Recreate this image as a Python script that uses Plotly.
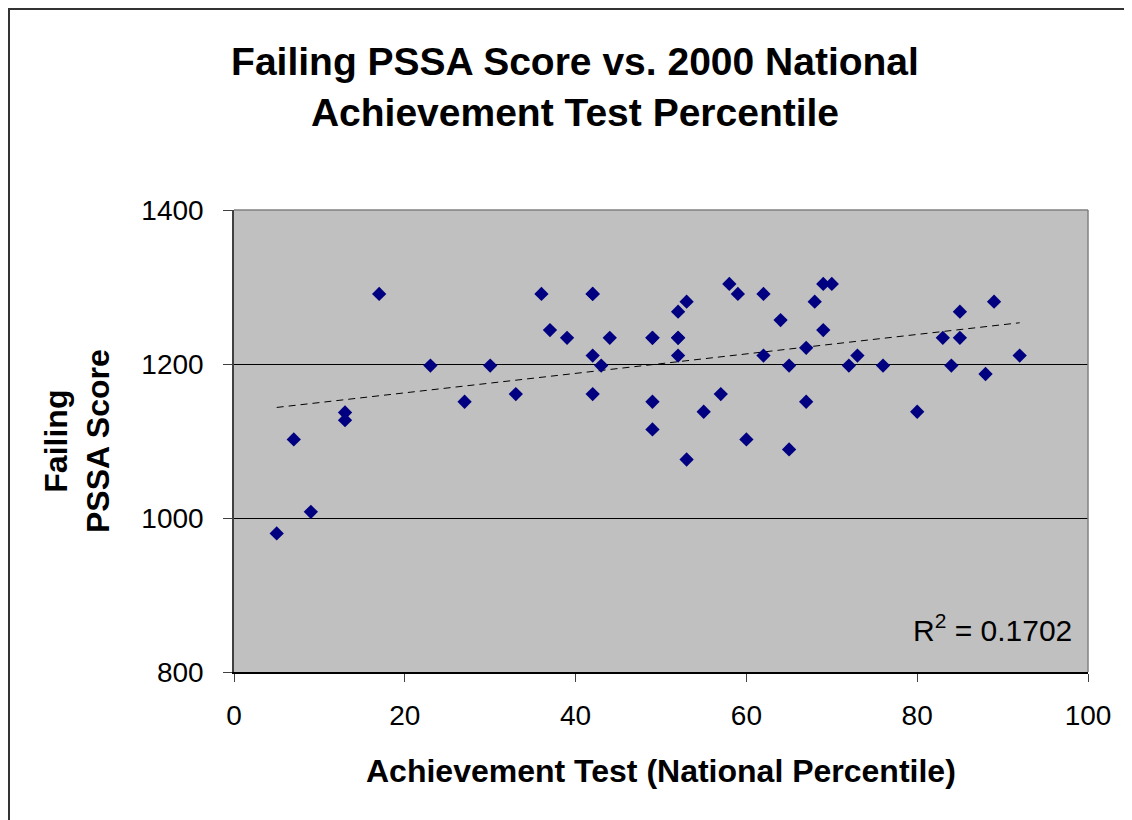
import numpy as np
import plotly.graph_objects as go

percentile = [5, 7, 9, 13, 13, 17, 23, 27, 30, 33, 36, 37, 39, 42, 42, 42, 42, 43, 44,
              49, 49, 49, 49, 52, 52, 52, 52, 53, 53, 55, 57, 58, 59, 60, 62, 62, 64,
              65, 65, 67, 67, 68, 69, 69, 70, 72, 73, 76, 80, 83, 84, 85, 85, 88, 89, 92]
pssa = [980, 1102, 1008, 1137, 1127, 1291, 1198, 1151, 1198, 1161, 1291, 1244, 1234,
        1291, 1211, 1161, 1291, 1198, 1234, 1234, 1151, 1115, 1234, 1268, 1234, 1211,
        1234, 1281, 1076, 1138, 1161, 1304, 1291, 1102, 1291, 1211, 1257, 1198, 1089,
        1221, 1151, 1281, 1304, 1244, 1304, 1198, 1211, 1198, 1138, 1234, 1198, 1268,
        1234, 1187, 1281, 1211]
x_ticks = [0, 20, 40, 60, 80, 100]
y_ticks = [800, 1000, 1200, 1400]
r2_text = "R<sup>2</sup> = 0.1702"

x = np.array(percentile, dtype=float)
y = np.array(pssa, dtype=float)
slope, intercept = np.polyfit(x, y, 1)
tx = np.array([x.min(), x.max()])
ty = slope * tx + intercept

FONT = "Liberation Sans, Arial, sans-serif"

fig = go.Figure()
fig.add_trace(go.Scatter(x=tx, y=ty, mode="lines",
                         line=dict(color="black", width=1, dash="7px,5px"),
                         hoverinfo="skip", showlegend=False))
fig.add_trace(go.Scatter(x=x, y=y, mode="markers",
                         marker=dict(symbol="diamond", size=11, color="#000080",
                                     line=dict(width=0)),
                         showlegend=False))

# page has an 8px body margin; figure is sized to fill the rest of the window
W, H = 1124, 812
L, R, T, B = 226, 44, 202, 148
pw, ph = W - L - R, H - T - B
OFF = 8  # page offset

def pxx(p):  # page px -> paper x
    return (p - OFF - L) / pw

def pxy(p):  # page px -> paper y
    return (H - B - (p - OFF)) / ph

fig.update_layout(
    width=W, height=H,
    margin=dict(l=L, r=R, t=T, b=B),
    paper_bgcolor="white",
    plot_bgcolor="#C0C0C0",
    font=dict(family=FONT, color="black"),
    title=dict(text="<b>Failing PSSA Score vs. 2000 National<br>Achievement Test Percentile</b>",
               x=(575 - OFF) / W, xanchor="center",
               y=1 - (75 - OFF) / H, yanchor="middle",
               font=dict(size=39, family=FONT)),
    xaxis=dict(range=[0, 100], tickvals=x_ticks,
               showgrid=False, zeroline=False,
               showline=True, linecolor="black", linewidth=1.5, mirror=False,
               ticks="outside", ticklen=8, tickcolor="#404040", tickwidth=1,
               ticklabelstandoff=10,
               tickfont=dict(size=28, family=FONT)),
    yaxis=dict(range=[800, 1400], tickvals=y_ticks,
               showgrid=True, gridcolor="black", gridwidth=1, zeroline=False,
               showline=True, linecolor="#404040", linewidth=1.5,
               ticks="outside", ticklen=9, tickcolor="#404040", tickwidth=1,
               ticklabelstandoff=14,
               tickfont=dict(size=28, family=FONT)),
)

# plot area top/right border (gray)
fig.add_shape(type="line", xref="paper", yref="paper", x0=0, x1=1, y0=1, y1=1,
              line=dict(color="#808080", width=1.5))
fig.add_shape(type="line", xref="paper", yref="paper", x0=1, x1=1, y0=0, y1=1,
              line=dict(color="#808080", width=1.5))
# outer chart border
fig.add_shape(type="rect", xref="paper", yref="paper",
              x0=pxx(9), x1=pxx(1160),
              y0=pxy(860), y1=pxy(9),
              line=dict(color="#333333", width=2), layer="below")

fig.add_annotation(text="<b>Failing<br>PSSA Score</b>", xref="paper", yref="paper",
                   x=pxx(77), y=pxy(441), xanchor="center", yanchor="middle",
                   textangle=-90, showarrow=False,
                   font=dict(size=32, family=FONT), align="center")
fig.add_annotation(text="<b>Achievement Test (National Percentile)</b>",
                   xref="paper", yref="paper",
                   x=pxx(661), y=pxy(771), xanchor="center", yanchor="middle",
                   showarrow=False, font=dict(size=32, family=FONT))
fig.add_annotation(text=r2_text, xref="paper", yref="paper",
                   x=pxx(1074), y=pxy(628),
                   xanchor="right", yanchor="middle", showarrow=False,
                   font=dict(size=30, family=FONT))

fig.write_html("out.html")
